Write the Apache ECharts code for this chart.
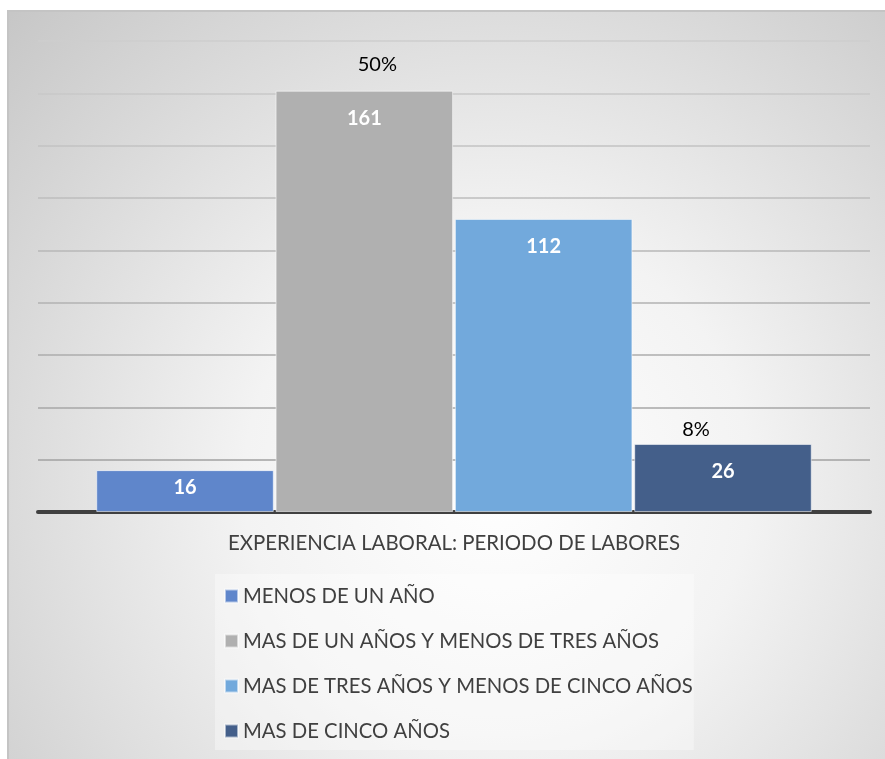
<!DOCTYPE html>
<html>
<head>
<meta charset="utf-8">
<script src="https://cdn.jsdelivr.net/npm/echarts@6/dist/echarts.min.js"></script>
<style>
html,body{margin:0;padding:0;background:#fff;}
#c{width:885px;height:759px;}
</style>
</head>
<body>
<div id="c"></div>
<script>
// ---- data ----
const category = ['EXPERIENCIA LABORAL: PERIODO DE LABORES'];
const seriesNames = [
  'MENOS DE UN AÑO',
  'MAS DE UN AÑOS Y MENOS DE TRES AÑOS',
  'MAS DE TRES AÑOS Y MENOS DE CINCO AÑOS',
  'MAS DE CINCO AÑOS'
];
const seriesValues = [16, 161, 112, 26];
const percentLabels = ['', '50%', '', '8%'];
const yTicks = [0, 20, 40, 60, 80, 100, 120, 140, 160, 180];

// ---- styles ----
const colors = ['#5f86cb', '#b0b0b0', '#72a9dc', '#445f8a'];
const insideDistance = [7, 18, 18, 18];
const pctOffsets = [[0, 0], [13, -26], [0, 0], [-27, -14]];
const FONT = 'Lato, "Open Sans", sans-serif';

const chart = echarts.init(document.getElementById('c'), null, {renderer: 'canvas'});

const series = seriesNames.map((name, i) => {
  const s = {
    name: name,
    type: 'bar',
    barCategoryGap: '14%',
    barGap: '1%',
    data: [seriesValues[i]],
    itemStyle: {color: colors[i], borderColor: 'rgba(255,255,255,0.55)', borderWidth: 1},
    label: {
      show: true,
      position: 'insideTop',
      distance: insideDistance[i],
      color: '#ffffff',
      fontWeight: 'bold',
      fontSize: 20,
      fontFamily: FONT
    },
    emphasis: {disabled: true}
  };
  if (percentLabels[i]) {
    s.markPoint = {
      symbol: 'circle',
      symbolSize: 0,
      data: [{coord: [0, seriesValues[i]], value: percentLabels[i]}],
      label: {
        show: true,
        position: 'inside',
        offset: pctOffsets[i],
        formatter: percentLabels[i],
        color: '#000000',
        fontSize: 20,
        fontFamily: FONT
      }
    };
  }
  return s;
});

chart.setOption({
  animation: false,
  backgroundColor: 'transparent',
  graphic: [{
    type: 'rect',
    z: -100,
    silent: true,
    shape: {x: 8, y: 11, width: 890, height: 760},
    style: {
      fill: {
        type: 'radial', x: 0.55, y: 0.62, r: 0.95,
        colorStops: [
          {offset: 0, color: '#ffffff'},
          {offset: 0.35, color: '#f3f3f3'},
          {offset: 1, color: '#c2c2c2'}
        ]
      },
      stroke: '#c4c4c4',
      lineWidth: 2
    }
  }],
  grid: {left: 38, right: 15, top: 41, bottom: 247},
  legend: {
    orient: 'vertical',
    left: 215,
    top: 574,
    padding: [12, 1, 9, 9],
    backgroundColor: 'rgba(255,255,255,0.35)',
    itemWidth: 13,
    itemHeight: 13,
    itemGap: 25,
    icon: 'rect',
    data: seriesNames,
    textStyle: {color: '#404040', fontSize: 20.3, lineHeight: 20, fontFamily: FONT},
    selectedMode: false
  },
  xAxis: {
    type: 'category',
    data: category,
    axisTick: {show: false},
    axisLine: {lineStyle: {color: '#404040', width: 4}},
    axisLabel: {color: '#404040', fontSize: 20.4, margin: 21, fontFamily: FONT}
  },
  yAxis: {
    type: 'value',
    min: yTicks[0],
    max: yTicks[yTicks.length - 1],
    interval: yTicks[1] - yTicks[0],
    axisLabel: {show: false},
    axisLine: {show: false},
    axisTick: {show: false},
    splitLine: {
      lineStyle: {
        width: 1.5,
        color: {
          type: 'linear', x: 0, y: 0, x2: 0, y2: 511, global: true,
          colorStops: [{offset: 0, color: '#d2d2d2'}, {offset: 1, color: '#9c9c9c'}]
        }
      }
    }
  },
  series: series
});
</script>
</body>
</html>
